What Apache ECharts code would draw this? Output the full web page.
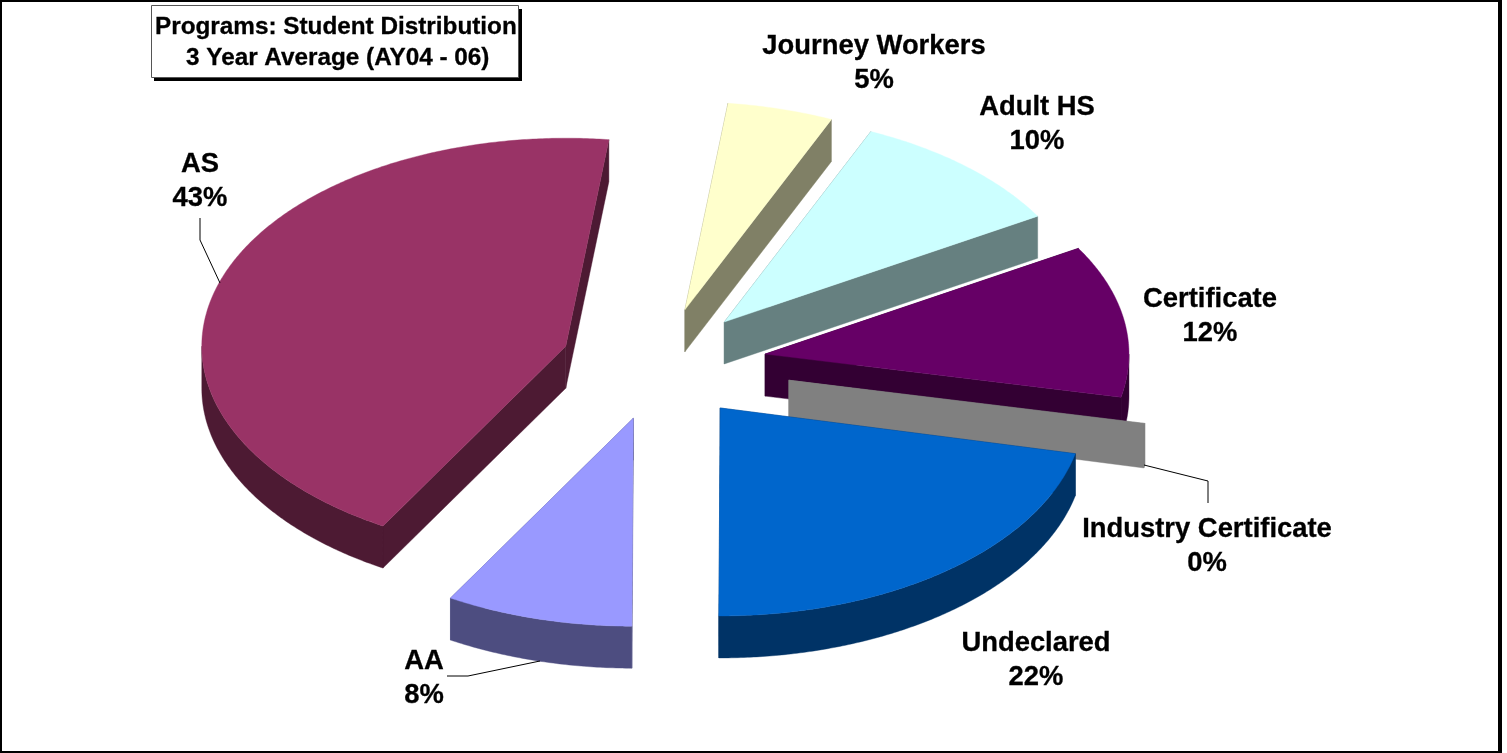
<!DOCTYPE html>
<html>
<head>
<meta charset="utf-8">
<style>html,body{margin:0;padding:0;background:#fff}#c{width:1507px;height:753px}</style>
<script src="https://cdn.jsdelivr.net/npm/echarts@6/dist/echarts.min.js"></script>
</head>
<body>
<div id="c"></div>
<script>
// Data (percent of students), clockwise from Journey Workers
const categories = ['Journey Workers', 'Adult HS', 'Certificate', 'Industry Certificate', 'Undeclared', 'AA', 'AS'];
const shares = [4.7, 9.9, 11.8, 0.2, 21.5, 8.3, 43.45];
const percentLabels = ['5%', '10%', '12%', '0%', '22%', '8%', '43%'];
const titleLines = ['Programs: Student Distribution', '3 Year Average (AY04 - 06)'];

// Styling
const topColors = ['#ffffcc', '#ccffff', '#660066', '#808080', '#0066cc', '#9999ff', '#993366'];
const sideColors = ['#808066', '#668080', '#330033', '#808080', '#003366', '#4d4d80', '#4d1a33'];
const pulls = [0.27, 0.27, 0.295, 0.365, 0.27, 0.27, 0.27];
const labelCenters = [[874, 63], [1037, 124], [1210, 316], [1207, 546], [1036, 660], [424, 678], [200, 181]];
const pie = { cx: 659, cy: 364, rx: 364, ry: 208, depth: 42, firstAngle: 6.8 };

const total = shares.reduce((a, b) => a + b, 0);
const rad = d => d * Math.PI / 180;

function renderSlice(params, api) {
  const i = params.dataIndex;
  const before = shares.slice(0, i).reduce((a, b) => a + b, 0);
  const t0 = pie.firstAngle + before / total * 360;
  const t1 = t0 + api.value(0) / total * 360;
  const mid = rad((t0 + t1) / 2);
  const ax = pie.cx + pulls[i] * pie.rx * Math.sin(mid);
  const ay = pie.cy - pulls[i] * pie.ry * Math.cos(mid);
  const at = (t, dy) => [ax + pie.rx * Math.sin(rad(t)), ay - pie.ry * Math.cos(rad(t)) + (dy || 0)];
  const arc = (a, b, dy) => {
    const out = [], n = Math.max(2, Math.ceil(Math.abs(b - a) * 2));
    for (let k = 0; k <= n; k++) out.push(at(a + (b - a) * k / n, dy));
    return out;
  };
  const d = pie.depth;
  const children = [];
  const poly = (points, fill) => children.push({
    type: 'polygon', shape: { points }, style: { fill, stroke: fill, lineWidth: 0.4 }
  });
  // radial walls
  poly([[ax, ay], at(t0), at(t0, d), [ax, ay + d]], sideColors[i]);
  poly([[ax, ay], at(t1), at(t1, d), [ax, ay + d]], sideColors[i]);
  // rim wall, only where it faces the viewer
  const a = Math.max(t0, 90), b = Math.min(t1, 270);
  if (b > a) poly(arc(a, b, 0).concat(arc(b, a, d)), sideColors[i]);
  // top face
  poly([[ax, ay]].concat(arc(t0, t1, 0)), topColors[i]);
  // label
  children.push({
    type: 'text', z2: 50,
    style: {
      x: labelCenters[i][0], y: labelCenters[i][1],
      text: categories[i] + '\n' + percentLabels[i],
      fill: '#000', stroke: '#000', lineWidth: 0.3, align: 'center', verticalAlign: 'middle',
      font: 'bold 27.4px "Liberation Sans", Arial, sans-serif', lineHeight: 34
    }
  });
  return { type: 'group', children };
}

const line = pts => ({
  type: 'polyline', z: 5, shape: { points: pts },
  style: { stroke: '#000', lineWidth: 1, fill: null }
});

const chart = echarts.init(document.getElementById('c'), null, { renderer: 'canvas' });
chart.setOption({
  backgroundColor: '#fff',
  animation: false,
  graphic: [
    { type: 'rect', z: -1, shape: { x: 1, y: 1, width: 1498, height: 751 }, style: { fill: '#fff', stroke: '#000', lineWidth: 2 } },
    { type: 'rect', z: -1, shape: { x: 1498, y: 0, width: 4, height: 753 }, style: { fill: '#000' } },
    line([[1144, 465], [1208, 481], [1208, 503]]),
    line([[200, 218], [200, 240], [220, 283]]),
    line([[447, 676], [468, 676], [540, 661]]),
    { type: 'rect', z: 6, shape: { x: 154, y: 9, width: 368, height: 72 }, style: { fill: '#000' } },
    { type: 'rect', z: 7, shape: { x: 151.5, y: 5.5, width: 367, height: 72 }, style: { fill: '#fff', stroke: '#555', lineWidth: 1 } },
    { type: 'text', z: 8, style: { x: 155, y: 27.5, text: titleLines[0], fill: '#000', stroke: '#000', lineWidth: 0.3, verticalAlign: 'middle', font: 'bold 24.3px "Liberation Sans", Arial, sans-serif' } },
    { type: 'text', z: 8, style: { x: 186, y: 58, text: titleLines[1], fill: '#000', stroke: '#000', lineWidth: 0.3, verticalAlign: 'middle', font: 'bold 24.3px "Liberation Sans", Arial, sans-serif' } }
  ],
  series: [{
    type: 'custom',
    coordinateSystem: 'none',
    renderItem: renderSlice,
    data: shares.map((v, i) => ({ name: categories[i], value: [v] })),
    z: 2
  }]
});
</script>
</body>
</html>
